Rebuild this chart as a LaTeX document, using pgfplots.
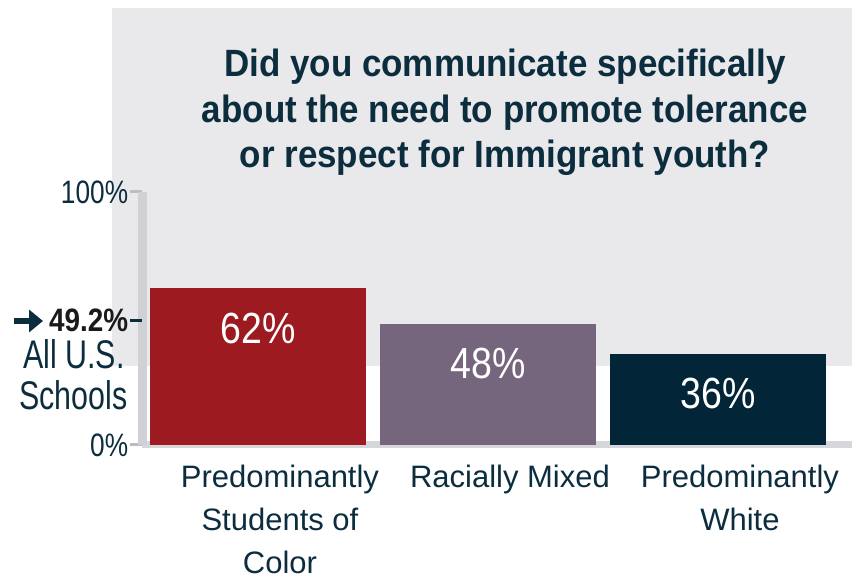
\documentclass[border=0pt]{standalone}
\usepackage{pgfplots}
\pgfplotsset{compat=1.18}
\usetikzlibrary{arrows.meta}
\usepackage{fontspec}
\setmainfont{Liberation Sans}
\newfontfamily\titlefont[FakeStretch=0.92]{Liberation Sans}
\newfontfamily\tickfont[FakeStretch=0.81]{Liberation Sans}
\newfontfamily\avgfont[FakeStretch=0.86]{Liberation Sans}
\newfontfamily\allfont[FakeStretch=0.76]{Liberation Sans}
\newfontfamily\barfont[FakeStretch=0.86]{Liberation Sans}
\definecolor{bg}{HTML}{E9E9EC}
\definecolor{axisgray}{HTML}{D0D1D4}
\definecolor{bottomgray}{HTML}{D6D7DA}
\definecolor{tickgray}{HTML}{BCBDC0}
\definecolor{redc}{HTML}{9C1A20}
\definecolor{purplec}{HTML}{76667D}
\definecolor{navyc}{HTML}{022538}
\definecolor{textcol}{HTML}{0C2D3E}
\definecolor{avgcol}{HTML}{1A1A1A}
\begin{document}
\begin{tikzpicture}
\path[use as bounding box] (0,0) rectangle (426pt,289pt);
\fill[bg] (56pt,106pt) rectangle (426pt,285pt);
\tikzset{ttl/.style={anchor=base, text=textcol, font=\titlefont\bfseries\fontsize{19}{23}\selectfont, inner sep=0pt}}
\node[ttl] at (252.5pt,250.5pt) {Did you communicate specifically};
\node[ttl] at (252.5pt,227.5pt) {about the need to promote tolerance};
\node[ttl] at (252.5pt,205pt) {or respect for Immigrant youth?};
\begin{axis}[
  at={(71.25pt,66.5pt)}, anchor=south west,
  scale only axis, width=354.75pt, height=126.5pt,
  xmin=-0.502, xmax=2.583, ymin=0, ymax=100,
  enlargelimits=false,
  axis lines*=left,
  x axis line style={draw=bottomgray, line width=3.5pt},
  y axis line style={draw=axisgray, line width=4.2pt},
  tick align=outside,
  major tick length=6pt,
  xtick style={draw=none},
  ytick style={draw=tickgray, line width=1.5pt},
  ytick={0,100},
  yticklabels={0\%,100\%},
  yticklabel style={font=\tickfont\fontsize{16.2}{18}\selectfont, text=textcol, inner sep=0pt, anchor=east, xshift=-1pt},
  extra y ticks={49.2},
  extra y tick labels={\avgfont\bfseries 49.2\%},
  extra y tick style={ytick style={draw=textcol, line width=1.5pt}, yticklabel style={text=avgcol, font=\avgfont\bfseries\fontsize{16.2}{18}\selectfont}},
  xtick={0,1,2},
  xticklabels={{Predominantly\\Students of\\Color},{Racially Mixed},{Predominantly\\White}},
  xticklabel style={font=\fontsize{15.5}{21.5}\selectfont, text=textcol, align=center, anchor=north, inner sep=0pt, xshift=11pt, yshift=-3.7pt},
  ybar,
  bar width=0.939,
  /pgf/number format/assume math mode=true,
  nodes near coords={\pgfmathprintnumber{\pgfplotspointmeta}\%},
  every node near coord/.append style={font=\barfont\fontsize{21.8}{24}\selectfont, text=white, anchor=center, yshift=-20pt},
]
\addplot[fill=redc, draw=none, bar shift=0pt] coordinates {(0,62)};
\addplot[fill=purplec, draw=none, bar shift=0pt] coordinates {(1,48)};
\addplot[fill=navyc, draw=none, bar shift=0pt] coordinates {(2,36)};
\end{axis}
\draw[textcol, line width=3pt, -{Triangle[length=7pt,width=11pt]}] (7pt,128.5pt) -- (21.5pt,128.5pt);
\node[anchor=base east, inner sep=0pt, text=textcol, font=\allfont\fontsize{20}{22}\selectfont] at (62.5pt,104.5pt) {All U.S.};
\node[anchor=base east, inner sep=0pt, text=textcol, font=\allfont\fontsize{20}{22}\selectfont] at (64pt,84pt) {Schools};
\end{tikzpicture}
\end{document}
